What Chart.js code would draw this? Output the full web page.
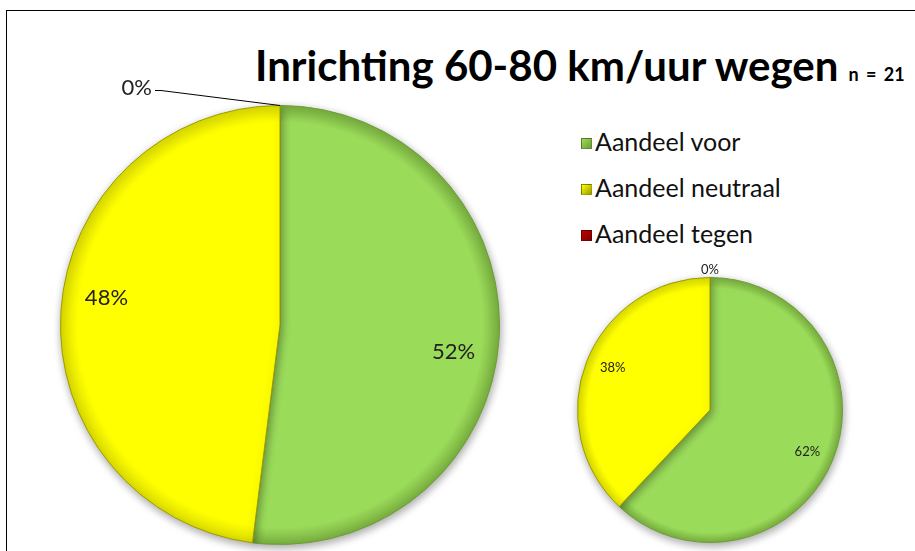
<!DOCTYPE html>
<html>
<head>
<meta charset="utf-8">
<script src="https://cdn.jsdelivr.net/npm/chart.js"></script>
<style>
  body { margin: 0; background: #fff; width: 915px; height: 551px; overflow: hidden; position: relative; font-family: Lato, "Open Sans", sans-serif; }
  #frame { position: absolute; left: 6px; top: 10px; width: 940px; height: 600px; border: 1px solid #000; box-sizing: border-box; }
  #title { position: absolute; left: 255px; top: 40px; font-weight: bold; font-size: 42px; color: #000; white-space: nowrap; }
  #title small { font-size: 18px; margin-left: 10px; word-spacing: 3px; }
  #legend { position: absolute; left: 581px; top: 127px; font-size: 25px; color: #111; }
  #legend div { height: 46px; line-height: 28px; white-space: nowrap; }
  #legend span.box { display: inline-block; width: 11px; height: 11px; margin-right: 3px; vertical-align: 2px; border: 1px solid rgba(0,0,0,0.3); box-sizing: border-box; }
  canvas { position: absolute; }
  #big { left: 0; top: 60px; }
  #small { left: 560px; top: 250px; }
</style>
</head>
<body>
<div id="frame"></div>
<div id="title">Inrichting 60-80 km/uur wegen<small>n = 21</small></div>
<div id="legend"></div>
<canvas id="big" width="560" height="491"></canvas>
<canvas id="small" width="300" height="301"></canvas>
<script>
var categories = ['Aandeel voor', 'Aandeel neutraal', 'Aandeel tegen'];
var bigValues = [52, 48, 0];
var smallValues = [62, 38, 0];
var colors = ['#9bdb5a', '#ffff00', '#c00000'];
var rimColors = ['#77ad3e', '#dada00', '#8a0000'];
var edgeColors = ['#6e9e35', '#9c9c00', '#800000'];

// legend in html
var legend = document.getElementById('legend');
categories.forEach(function (name, i) {
    var row = document.createElement('div');
    var box = document.createElement('span');
    box.className = 'box';
    box.style.background = 'linear-gradient(135deg, ' + colors[i] + ', ' + edgeColors[i] + ')';
    row.appendChild(box);
    row.appendChild(document.createTextNode(name));
    legend.appendChild(row);
});

// slight bevel: darker rim near the outer edge
function sliceFill(context) {
    var chart = context.chart;
    var area = chart.chartArea;
    var i = context.dataIndex;
    if (!area) return colors[i];
    var cx = (area.left + area.right) / 2;
    var cy = (area.top + area.bottom) / 2;
    var r = Math.min(area.right - area.left, area.bottom - area.top) / 2;
    var g = chart.ctx.createRadialGradient(cx, cy, 0, cx, cy, r);
    g.addColorStop(0, colors[i]);
    g.addColorStop(0.92, colors[i]);
    g.addColorStop(1, rimColors[i]);
    return g;
}

var shadowPlugin = {
    id: 'shadow',
    beforeDatasetsDraw: function (chart) {
        var ctx = chart.ctx;
        ctx.save();
        ctx.shadowColor = 'rgba(0,0,0,0.35)';
        ctx.shadowBlur = 8;
        ctx.shadowOffsetX = 1;
        ctx.shadowOffsetY = 3;
    },
    afterDatasetsDraw: function (chart) {
        chart.ctx.restore();
    }
};

var pctLabels = {
    id: 'pctLabels',
    afterDraw: function (chart, args, opts) {
        var ctx = chart.ctx;
        var arcs = chart.getDatasetMeta(0).data;
        var values = chart.data.datasets[0].data;
        ctx.save();
        ctx.fillStyle = '#222';
        ctx.font = opts.size + 'px Lato, "Open Sans", sans-serif';
        arcs.forEach(function (arc, i) {
            var p = arc.getProps(['x', 'y', 'startAngle', 'endAngle', 'outerRadius']);
            var mid = (p.startAngle + p.endAngle) / 2;
            var text = values[i] + '%';
            if (values[i] > 0) {
                var r = p.outerRadius * 0.8;
                var a = mid + opts.shift;
                ctx.textAlign = 'center';
                ctx.textBaseline = 'middle';
                ctx.fillText(text, p.x + Math.cos(a) * r, p.y + Math.sin(a) * r);
            } else {
                var ox = p.x + Math.cos(mid) * p.outerRadius;
                var oy = p.y + Math.sin(mid) * p.outerRadius;
                if (opts.leader) {
                    var ex = ox + opts.leader[0], ey = oy + opts.leader[1];
                    ctx.strokeStyle = '#000';
                    ctx.lineWidth = 1;
                    ctx.beginPath();
                    ctx.moveTo(ox, oy);
                    ctx.lineTo(ex + 6, ey);
                    ctx.lineTo(ex, ey);
                    ctx.stroke();
                    ctx.textAlign = 'right';
                    ctx.textBaseline = 'middle';
                    ctx.fillText(text, ex - 3, ey - 3);
                } else {
                    ctx.textAlign = 'center';
                    ctx.textBaseline = 'bottom';
                    ctx.fillText(text, ox, oy - 1);
                }
            }
        });
        ctx.restore();
    }
};

function makePie(id, values, padding, labelOpts) {
    return new Chart(document.getElementById(id), {
        type: 'pie',
        data: {
            labels: categories,
            datasets: [{
                data: values,
                backgroundColor: sliceFill,
                borderColor: edgeColors,
                borderWidth: 1
            }]
        },
        options: {
            responsive: false,
            animation: false,
            layout: { padding: padding },
            plugins: {
                legend: { display: false },
                tooltip: { enabled: false },
                pctLabels: labelOpts
            }
        },
        plugins: [shadowPlugin, pctLabels]
    });
}

makePie('big', bigValues, { left: 60, right: 60, top: 45, bottom: 6 }, { size: 22, leader: [-125, -15], shift: 0.09 });
makePie('small', smallValues, { left: 17, right: 17, top: 27, bottom: 8 }, { size: 13, shift: 0.03 });
</script>
</body>
</html>
